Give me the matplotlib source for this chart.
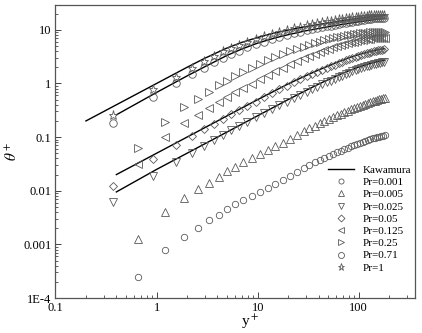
import matplotlib
matplotlib.use('Agg')
import matplotlib.pyplot as plt
from matplotlib.ticker import LogLocator, FixedLocator, FixedFormatter, NullFormatter

plt.rcParams['font.family'] = ['Liberation Serif', 'DejaVu Serif']
plt.rcParams['mathtext.fontset'] = 'stix'

# y+ positions: cell nodes and cell centres of the DNS grid
y_node = [0.65, 1.22, 1.88, 2.59, 3.3, 4.16, 5.0, 6.0, 7.2, 8.7, 10.5, 12.6, 15.0, 17.8,
          21.0, 24.6, 28.4, 32.4, 36.6, 41.0, 45.6, 50.4, 55.4, 60.6, 66.0, 71.6, 77.4,
          83.4, 89.6, 96.0, 102.6, 109.3, 116.1, 123.0, 130.0, 137.1, 144.2, 151.4,
          158.6, 165.8, 173.0, 180.0]
y_cent = [0.37, 0.93, 1.55, 2.22, 2.92, 3.72, 4.55, 5.5, 6.6, 7.9, 9.6, 11.5, 13.8, 16.4,
          19.4, 22.8, 26.5, 30.4, 34.5, 38.8, 43.3, 48.0, 52.9, 58.0, 63.3, 68.8, 74.5,
          80.4, 86.5, 92.8, 99.3, 105.9, 112.7, 119.5, 126.5, 133.5, 140.6, 147.8,
          155.0, 162.2, 169.4, 176.5]

# theta+ for each Prandtl number
t_0001 = [0.00025, 0.00077, 0.00137, 0.00203, 0.0028, 0.0036, 0.0046, 0.0056, 0.0067,
          0.0080, 0.0096, 0.0114, 0.0135, 0.0157, 0.0185, 0.0222, 0.0262, 0.0298, 0.0340,
          0.0375, 0.0410, 0.0445, 0.0482, 0.0520, 0.0559, 0.0598, 0.0637, 0.0676, 0.0714,
          0.0752, 0.0788, 0.0824, 0.0858, 0.0891, 0.0921, 0.0949, 0.0977, 0.1002, 0.1024,
          0.1045, 0.1063, 0.1077]
t_0005 = [0.00125, 0.0040, 0.0072, 0.0106, 0.0142, 0.0182, 0.0230, 0.0283, 0.0340, 0.0405,
          0.0485, 0.0575, 0.068, 0.079, 0.093, 0.110, 0.128, 0.145, 0.164, 0.182, 0.200,
          0.218, 0.236, 0.255, 0.273, 0.292, 0.311, 0.330, 0.349, 0.367, 0.385, 0.403,
          0.420, 0.436, 0.451, 0.466, 0.480, 0.493, 0.505, 0.516, 0.526, 0.535]
t_0025 = [0.0062, 0.019, 0.034, 0.051, 0.069, 0.089, 0.11, 0.133, 0.160, 0.192, 0.233,
          0.279, 0.333, 0.394, 0.46, 0.54, 0.62, 0.70, 0.79, 0.87, 0.96, 1.05, 1.13, 1.22,
          1.31, 1.40, 1.49, 1.58, 1.67, 1.76, 1.85, 1.93, 2.01, 2.09, 2.16, 2.23, 2.29,
          2.35, 2.40, 2.44, 2.47, 2.49]
t_005 = [0.0124, 0.039, 0.070, 0.103, 0.139, 0.178, 0.219, 0.265, 0.318, 0.38, 0.46, 0.55,
         0.66, 0.78, 0.91, 1.05, 1.20, 1.35, 1.50, 1.65, 1.80, 1.95, 2.10, 2.25, 2.40, 2.55,
         2.70, 2.84, 2.98, 3.12, 3.26, 3.39, 3.52, 3.64, 3.76, 3.87, 3.97, 4.06, 4.14,
         4.21, 4.26, 4.30]
t_0125 = [0.031, 0.10, 0.18, 0.26, 0.35, 0.46, 0.56, 0.68, 0.82, 0.99, 1.19, 1.42, 1.68,
          1.97, 2.29, 2.62, 2.95, 3.28, 3.6, 3.9, 4.2, 4.48, 4.75, 5.0, 5.24, 5.46, 5.67,
          5.87, 6.05, 6.22, 6.37, 6.5, 6.62, 6.73, 6.82, 6.9, 6.96, 7.01, 7.05, 7.08, 7.1,
          7.11]
t_025 = [0.062, 0.19, 0.36, 0.52, 0.70, 0.92, 1.12, 1.35, 1.6, 1.92, 2.28, 2.68, 3.1, 3.55,
         4.0, 4.45, 4.88, 5.3, 5.68, 6.04, 6.37, 6.68, 6.96, 7.22, 7.46, 7.68, 7.88, 8.07,
         8.24, 8.4, 8.54, 8.67, 8.79, 8.89, 8.98, 9.06, 9.12, 9.17, 9.21, 9.24, 9.26, 9.27]
t_071 = [0.18, 0.56, 1.0, 1.47, 1.97, 2.5, 3.0, 3.55, 4.1, 4.7, 5.35, 6.0, 6.65, 7.3, 7.95,
         8.6, 9.2, 9.75, 10.25, 10.7, 11.15, 11.6, 12.0, 12.4, 12.8, 13.15, 13.5, 13.85,
         14.2, 14.5, 14.8, 15.1, 15.35, 15.6, 15.85, 16.05, 16.25, 16.4, 16.55, 16.65,
         16.72, 16.75]
t_1 = [0.26, 0.79, 1.33, 1.98, 2.6, 3.3, 3.95, 4.6, 5.3, 6.0, 6.8, 7.6, 8.4, 9.2, 10.0,
       10.8, 11.5, 12.2, 12.8, 13.3, 13.8, 14.3, 14.75, 15.2, 15.6, 16.0, 16.35, 16.7,
       17.0, 17.3, 17.6, 17.85, 18.1, 18.3, 18.5, 18.65, 18.8, 18.9, 19.0, 19.05, 19.1,
       19.1]

# Kawamura correlation lines
k_y1 = [0.2, 0.5, 1, 2, 3, 5, 7, 10, 15, 20, 30, 40, 60, 80, 100, 130, 160, 180]
k_t1 = [0.2, 0.5, 1.0, 2.0, 2.95, 4.6, 5.85, 7.2, 8.8, 9.9, 11.5, 12.6, 14.2, 15.4, 16.3,
        17.4, 18.2, 18.6]
k_y = [0.4, 1, 2, 3, 5, 7, 10, 15, 20, 30, 40, 60, 80, 100, 130, 160, 180]
k_t071 = [0.26, 0.68, 1.38, 2.05, 3.35, 4.4, 5.65, 7.1, 8.1, 9.6, 10.6, 12.1, 13.2, 14.1,
          15.1, 15.9, 16.3]
k_t005 = [0.02, 0.05, 0.1, 0.15, 0.25, 0.35, 0.5, 0.74, 0.98, 1.4, 1.78, 2.45, 3.0, 3.45,
          3.95, 4.3, 4.45]
k_t0025 = [0.0095, 0.025, 0.05, 0.075, 0.125, 0.175, 0.25, 0.375, 0.5, 0.74, 0.97, 1.38,
           1.73, 2.02, 2.36, 2.6, 2.72]

series = [
    ('Pr=0.001', y_node, t_0001, 'o', 4.6),
    ('Pr=0.005', y_node, t_0005, '^', 5.6),
    ('Pr=0.025', y_cent, t_0025, 'v', 5.6),
    ('Pr=0.05', y_cent, t_005, 'D', 4.4),
    ('Pr=0.125', y_node, t_0125, '<', 5.6),
    ('Pr=0.25', y_node, t_025, '>', 5.6),
    ('Pr=0.71', y_cent, t_071, 'o', 5.4),
    ('Pr=1', y_cent, t_1, '*', 6.5),
]

fig = plt.figure(figsize=(4.22, 3.33), dpi=100)
ax = fig.add_axes([0.1315, 0.105, 0.852, 0.88])

ax.plot(k_y1, k_t1, color='black', lw=1.0, label='Kawamura')
ax.plot(k_y, k_t071, color='black', lw=1.0)
ax.plot(k_y, k_t005, color='black', lw=1.0)
ax.plot(k_y, k_t0025, color='black', lw=1.0)

gray = '#5a5a5a'
for lab, xs, ys, m, ms in series:
    ax.plot(xs, ys, linestyle='none', marker=m, ms=ms, mfc='none', mec=gray, mew=0.6,
            label=lab)

ax.set_xscale('log')
ax.set_yscale('log')
ax.set_xlim(0.1, 360)
ax.set_ylim(1e-4, 29)

ax.xaxis.set_major_locator(FixedLocator([0.1, 1, 10, 100]))
ax.xaxis.set_major_formatter(FixedFormatter(['0.1', '1', '10', '100']))
ax.yaxis.set_major_locator(FixedLocator([1e-4, 1e-3, 1e-2, 0.1, 1, 10]))
ax.yaxis.set_major_formatter(FixedFormatter(['1E-4', '0.001', '0.01', '0.1', '1', '10']))
ax.xaxis.set_minor_locator(LogLocator(subs=range(2, 10)))
ax.yaxis.set_minor_locator(LogLocator(subs=range(2, 10)))
ax.xaxis.set_minor_formatter(NullFormatter())
ax.yaxis.set_minor_formatter(NullFormatter())

ax.tick_params(which='both', direction='in', labelsize=9, color='#444444')
ax.tick_params(which='major', length=4, width=0.7, pad=3)
ax.tick_params(which='minor', length=2, width=0.6)
for s in ax.spines.values():
    s.set_color('#555555')
    s.set_linewidth(0.9)

ax.set_xlabel('y$^+$', fontsize=11, labelpad=0)
ax.xaxis.set_label_coords(0.54, -0.05)
ax.set_ylabel(r'$\theta^+$', fontsize=11, labelpad=2)

ax.legend(loc='upper left', bbox_to_anchor=(0.735, 0.48), frameon=False, fontsize=8,
          handlelength=2.4, labelspacing=0.22, handletextpad=0.8, borderpad=0.2,
          markerscale=0.8)

fig.savefig('out.png', dpi=100)
